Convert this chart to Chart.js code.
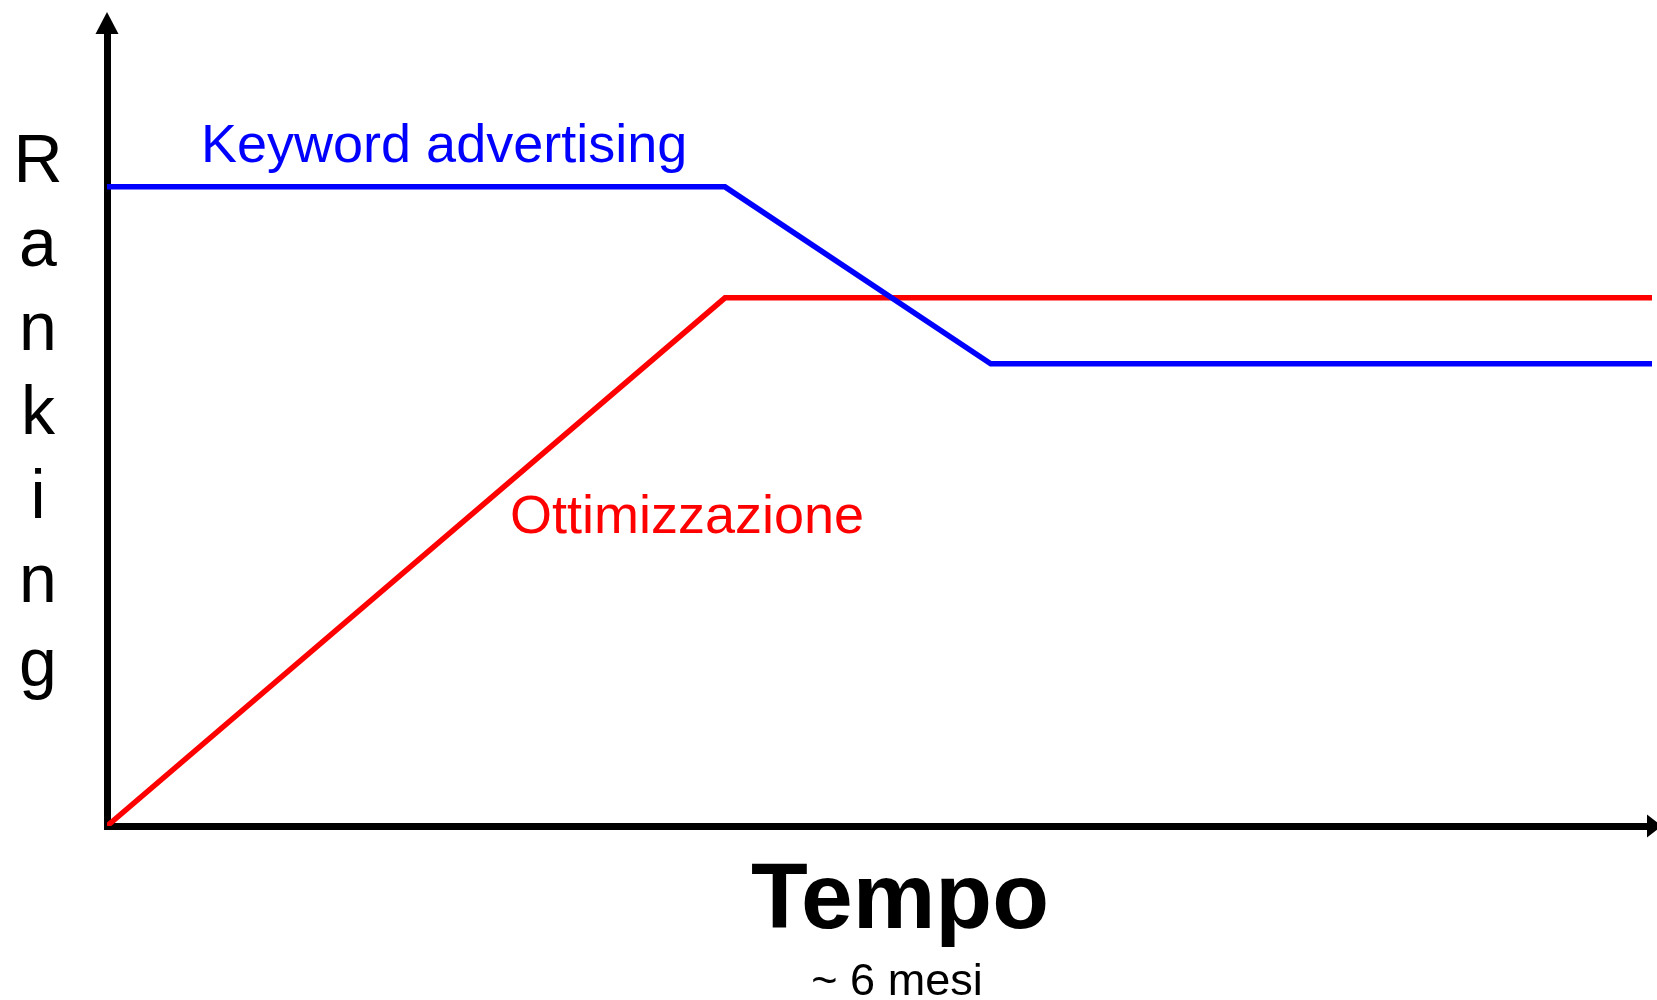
<!DOCTYPE html>
<html>
<head>
<meta charset="utf-8">
<title>Ranking / Tempo</title>
<script src="https://cdn.jsdelivr.net/npm/chart.js@4"></script>
<style>
	html, body { margin: 0; padding: 0; background: #ffffff; }
	#canRanking { display: block; }
</style>
</head>
<body>
<canvas id="canRanking" width="1657" height="1000"></canvas>
<script>
'use strict'

//////////////////////////////////////////////////////////////////////
// データ（図から読み取った値、x: 0-100 時間, y: 0-100 ランキング）
const keywordX = [0, 40, 57.2, 100];
const keywordY = [80.6, 80.6, 58.3, 58.3];
const ottimX = [0, 40, 100];
const ottimY = [0, 66.6, 66.6];

const labelKeyword = 'Keyword advertising';
const labelOttim = 'Ottimizzazione';
const titleX = 'Tempo';
const subTitleX = '~ 6 mesi';
const titleY = 'Ranking';

const FONT = '"Liberation Sans", Arial, Helvetica, sans-serif';

// {x, y} の形に
let toPoints = function (xs, ys) {
	return xs.map((x, i) => ({ x: x, y: ys[i] }));
};

//----------------------------------------------------------------------------------------------
// 軸の矢印と文字を描くプラグイン
const decoPlugin = {
	id: 'deco',
	afterDraw(chart) {
		const ctx = chart.ctx;
		const area = chart.chartArea;
		const xs = chart.scales.x;
		const ys = chart.scales.y;
		const x0 = xs.getPixelForValue(0);
		const y0 = ys.getPixelForValue(0);

		ctx.save();

		// 矢印
		ctx.fillStyle = '#000000';
		ctx.beginPath();	// 縦軸
		ctx.moveTo(x0, area.top - 21);
		ctx.lineTo(x0 - 11.5, area.top + 1);
		ctx.lineTo(x0 + 11.5, area.top + 1);
		ctx.closePath();
		ctx.fill();

		ctx.beginPath();	// 横軸
		ctx.moveTo(area.right + 10, y0);
		ctx.lineTo(area.right - 5, y0 - 11.5);
		ctx.lineTo(area.right - 5, y0 + 11.5);
		ctx.closePath();
		ctx.fill();

		// 系列ラベル
		ctx.textBaseline = 'alphabetic';
		ctx.textAlign = 'left';
		ctx.font = '54px ' + FONT;
		ctx.fillStyle = '#0000ff';
		ctx.fillText(labelKeyword, 201, 162);
		ctx.fillStyle = '#ff0000';
		ctx.fillText(labelOttim, 510, 533);

		// 横軸タイトル
		ctx.fillStyle = '#000000';
		ctx.textAlign = 'center';
		ctx.font = 'bold 93px ' + FONT;
		ctx.fillText(titleX, 900, 928);
		ctx.font = '45px ' + FONT;
		ctx.fillText(subTitleX, 897, 995);

		// 縦軸タイトル（一文字ずつ縦に）
		ctx.font = '68px ' + FONT;
		titleY.split('').forEach((c, i) => {
			ctx.fillText(c, 38, 182 + i * 84);
		});

		ctx.restore();
	}
};

//----------------------------------------------------------------------------------------------
// 軸の共通オプション
let axisOption = function () {
	return {
		type: 'linear',
		min: 0,
		max: 100,
		grid: { display: false, drawTicks: false },
		ticks: { display: false },
		title: { display: false },
		border: { display: true, color: '#000000', width: 7 }
	};
};

const canRanking = document.getElementById('canRanking');
const ctxRanking = canRanking.getContext('2d');

let myChartRanking = new Chart(ctxRanking, {
	type: 'line',
	data: {
		datasets: [
			{
				label: labelKeyword, data: toPoints(keywordX, keywordY),
				borderColor: '#0000ff', backgroundColor: '#0000ff',
				borderWidth: 5.5, pointRadius: 0, tension: 0, fill: false
			},
			{
				label: labelOttim, data: toPoints(ottimX, ottimY),
				borderColor: '#ff0000', backgroundColor: '#ff0000',
				borderWidth: 5.5, pointRadius: 0, tension: 0, fill: false
			}
		]
	},
	options: {
		responsive: false,
		animation: false,
		devicePixelRatio: 1,
		layout: { padding: { left: 107, right: 5, top: 33, bottom: 174 } },
		plugins: {
			legend: { display: false },
			title: { display: false },
			tooltip: { enabled: false }
		},
		scales: {
			x: axisOption(),
			y: axisOption()
		}
	},
	plugins: [decoPlugin]
});
</script>
</body>
</html>
